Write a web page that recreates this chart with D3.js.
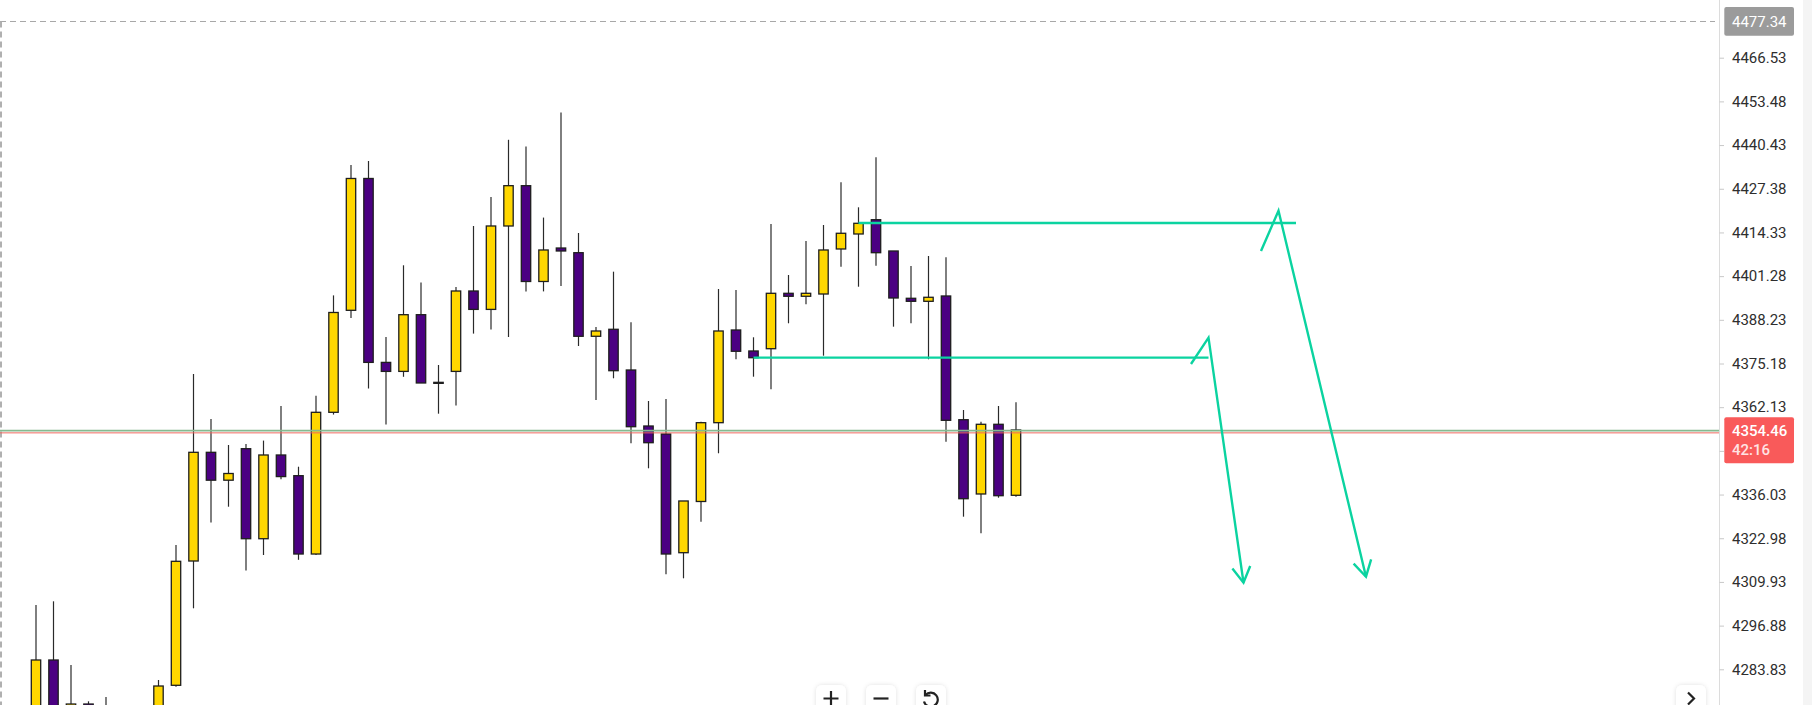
<!DOCTYPE html>
<html>
<head>
<meta charset="utf-8">
<script src="https://cdn.jsdelivr.net/npm/d3@7"></script>
<style>
  html, body { margin: 0; padding: 0; background: #fff; overflow: hidden; }
  svg { display: block; font-family: Roboto, "Noto Sans", sans-serif; }
</style>
</head>
<body>
<script>
// data (null = bar is off screen below the chart)

const opens = [4262.71, 4286.61, 4271.07, 4273.46, 4266.30, null, null, 4268.68, 4279.05, 4316.18,
  4348.65, 4340.32, 4349.73, 4322.84, 4347.85, 4341.67, 4318.27, 4360.60, 4391.07, 4430.45,
  4375.51, 4372.82, 4389.76, 4369.55, 4372.82, 4396.84, 4391.34, 4416.26, 4428.30, 4399.68,
  4409.68, 4408.28, 4383.31, 4385.40, 4373.24, 4356.51, 4354.12, 4318.66, 4333.96, 4357.50,
  4385.19, 4378.92, 4379.60, 4396.15, 4395.26, 4395.94, 4409.39, 4413.87, 4418.14, 4408.79,
  4394.66, 4393.76, 4395.35, 4358.39, 4336.20, 4357.02, 4335.81]

const highs = [4303.04, 4304.14, 4285.11, 4274.27, 4275.55, null, null, 4280.63, 4320.96, 4372.04,
  4358.60, 4350.84, 4351.13, 4352.15, 4362.49, 4344.35, 4365.56, 4395.53, 4434.48, 4435.67,
  4383.10, 4404.52, 4399.41, 4374.73, 4398.03, 4416.26, 4424.92, 4442.01, 4439.98, 4418.77,
  4450.19, 4414.17, 4386.09, 4402.61, 4387.49, 4363.98, 4364.58, 4334.11, 4357.80, 4397.44,
  4397.14, 4383.01, 4416.85, 4401.62, 4411.78, 4416.56, 4429.31, 4421.84, 4436.78, 4408.79,
  4404.31, 4407.30, 4406.91, 4361.29, 4357.80, 4362.49, 4363.59]

const lows = [4261.20, 4259.72, 4268.68, 4269.88, 4264.50, null, null, 4267.19, 4278.63, 4302.05,
  4327.68, 4332.40, 4313.34, 4317.97, 4340.59, 4316.54, 4317.97, 4359.92, 4388.77, 4367.71,
  4356.96, 4371.21, 4369.36, 4360.19, 4362.60, 4384.11, 4385.31, 4383.10, 4396.72, 4396.72,
  4398.33, 4380.41, 4364.28, 4370.76, 4351.34, 4343.87, 4312.21, 4311.01, 4327.92, 4348.36,
  4376.44, 4371.24, 4367.47, 4387.19, 4392.87, 4377.51, 4404.10, 4398.12, 4404.40, 4386.18,
  4387.19, 4376.44, 4351.82, 4329.42, 4324.46, 4335.09, 4335.39]

const closes = [4286.61, 4262.71, 4273.46, 4271.67, 4271.07, null, null, 4278.84, 4316.09, 4348.65,
  4340.32, 4342.32, 4322.84, 4347.85, 4341.40, 4318.27, 4360.60, 4390.42, 4430.45, 4375.51,
  4372.82, 4389.76, 4369.36, 4369.45, 4396.84, 4391.34, 4416.26, 4428.30, 4399.68, 4409.09,
  4408.79, 4383.31, 4384.89, 4373.03, 4356.30, 4351.52, 4318.27, 4334.11, 4357.50, 4384.89,
  4378.83, 4376.91, 4396.15, 4395.26, 4396.15, 4409.09, 4414.08, 4417.06, 4408.28, 4394.75,
  4393.76, 4394.96, 4358.21, 4334.79, 4357.02, 4335.69, 4355.32]

const priceTicks = [4466.53, 4453.48, 4440.43, 4427.38, 4414.33, 4401.28, 4388.23, 4375.18,
  4362.13, 4349.08, 4336.03, 4322.98, 4309.93, 4296.88, 4283.83]
const hiddenTick = 4349.08 // sits under the last price label

const topPrice = 4477.34
const lastPrice = 4354.46
const lastPriceTimer = "42:16"
const userLine = 4355.1

// drawings: [bar index, price]
const levelLines = [
  { from: 47, to: 72, price: 4417.15 },
  { from: 41, to: 67, price: 4376.91 }
]
const arrowUpper = [[70, 4408.79], [71, 4420.83], [76, 4311.49]]
const arrowLower = [[66, 4375.03], [67, 4382.89], [69, 4309.70]]

const bars = opens.map((o, i) => ({ i, o, h: highs[i], l: lows[i], c: closes[i] }))
  .filter(d => d.o !== null)

// chart

const width = 1812, height = 705
const axisX = 1719
const fmt = d3.format(".2f")

const svg = d3.select("body").append("svg")
  .attr("width", width)
  .attr("height", height)

const defs = svg.append("defs")
const shadow = defs.append("filter").attr("id", "btnShadow")
  .attr("x", "-30%").attr("y", "-30%").attr("width", "160%").attr("height", "160%")
shadow.append("feDropShadow")
  .attr("dx", 0).attr("dy", 0).attr("stdDeviation", 2)
  .attr("flood-color", "#000").attr("flood-opacity", 0.12)
defs.append("clipPath").attr("id", "plot")
  .append("rect").attr("x", 0).attr("y", 0).attr("width", axisX).attr("height", height)

const x = d3.scaleLinear().domain([0, 56]).range([36, 1016])
const y = d3.scaleLinear().domain([4466.53, 4283.83]).range([57.7, 669.3])

// right strip
svg.append("rect")
  .attr("x", 1803).attr("y", 0).attr("width", 9).attr("height", height)
  .attr("fill", "#f4f4f4")

const plot = svg.append("g").attr("clip-path", "url(#plot)")

// dashed frame (top price / left edge)
plot.append("line")
  .attr("x1", 0).attr("x2", axisX - 4)
  .attr("y1", y(topPrice)).attr("y2", y(topPrice))
  .attr("stroke", "#a8a8a8").attr("stroke-width", 1.2).attr("stroke-dasharray", "6,4")
plot.append("line")
  .attr("x1", 1).attr("x2", 1)
  .attr("y1", y(topPrice)).attr("y2", height)
  .attr("stroke", "#b0b0b0").attr("stroke-width", 2).attr("stroke-dasharray", "6,4")

// candles
const candle = plot.selectAll(".candle")
  .data(bars)
  .enter().append("g")
  .attr("class", "candle")

candle.append("line")
  .attr("x1", d => x(d.i)).attr("x2", d => x(d.i))
  .attr("y1", d => y(d.h)).attr("y2", d => y(d.l))
  .attr("stroke", "#2a2a2a").attr("stroke-width", 1.2)

candle.append("rect")
  .attr("x", d => x(d.i) - 4.7)
  .attr("width", 9.4)
  .attr("y", d => y(Math.max(d.o, d.c)))
  .attr("height", d => Math.max(1, Math.abs(y(d.o) - y(d.c))))
  .attr("fill", d => d.c >= d.o ? "#ffd700" : "#4b0082")
  .attr("stroke", "#1e1e1e").attr("stroke-width", 1.3)

// current price lines
plot.append("line")
  .attr("x1", 0).attr("x2", axisX)
  .attr("y1", y(lastPrice)).attr("y2", y(lastPrice))
  .attr("stroke", "#ee6a60").attr("stroke-width", 1)
plot.append("line")
  .attr("x1", 0).attr("x2", axisX)
  .attr("y1", y(userLine)).attr("y2", y(userLine))
  .attr("stroke", "#86b98f").attr("stroke-width", 1.8)

// drawings
const teal = "#0bd3a0"
plot.selectAll(".level")
  .data(levelLines)
  .enter().append("line")
  .attr("class", "level")
  .attr("x1", d => x(d.from)).attr("x2", d => x(d.to))
  .attr("y1", d => y(d.price)).attr("y2", d => y(d.price))
  .attr("stroke", teal).attr("stroke-width", 2.3)

const drawArrow = pts => {
  const p = pts.map(([i, v]) => [x(i), y(v)])
  plot.append("path")
    .attr("d", d3.line()(p))
    .attr("fill", "none").attr("stroke", teal).attr("stroke-width", 2.4)
    .attr("stroke-linejoin", "miter")
  const [a, b] = p.slice(-2)
  const ang = Math.atan2(a[1] - b[1], a[0] - b[0])
  const len = 18, spread = Math.PI / 180 * 30
  const wing = s => [b[0] + len * Math.cos(ang + s), b[1] + len * Math.sin(ang + s)]
  plot.append("path")
    .attr("d", d3.line()([wing(spread), b, wing(-spread)]))
    .attr("fill", "none").attr("stroke", teal).attr("stroke-width", 2.4)
}
drawArrow(arrowUpper)
drawArrow(arrowLower)

// price axis
svg.append("line")
  .attr("x1", axisX + 0.5).attr("x2", axisX + 0.5)
  .attr("y1", 0).attr("y2", height)
  .attr("stroke", "#dcdcdc")

const yAxis = d3.axisRight(y)
  .tickValues(priceTicks)
  .tickFormat(d => d === hiddenTick ? "" : fmt(d))
  .tickSize(4.5)
  .tickPadding(8)

const axisG = svg.append("g")
  .attr("transform", `translate(${axisX + 0.5},0)`)
  .call(yAxis)
axisG.select(".domain").remove()
axisG.selectAll(".tick line").attr("stroke", "#c8c8c8")
axisG.selectAll(".tick text")
  .attr("fill", "#2e2e2e")
  .attr("font-size", 15)
  .attr("font-family", "Roboto, 'Noto Sans', sans-serif")

// top price label
svg.append("rect")
  .attr("x", 1724.3).attr("y", y(topPrice) - 14.4)
  .attr("width", 69.7).attr("height", 28.7).attr("rx", 2)
  .attr("fill", "#9b9b9b")
svg.append("text")
  .attr("x", 1732).attr("y", y(topPrice) + 5.3)
  .attr("fill", "#fff").attr("font-size", 15)
  .text(fmt(topPrice))

// last price label
const ly = y(lastPrice)
svg.append("rect")
  .attr("x", 1724.3).attr("y", ly - 15.5)
  .attr("width", 69.7).attr("height", 46).attr("rx", 2)
  .attr("fill", "#f95a5a")
svg.append("text")
  .attr("x", 1732).attr("y", ly + 3.5)
  .attr("fill", "#fff").attr("font-size", 15).attr("font-weight", 500)
  .text(fmt(lastPrice))
svg.append("text")
  .attr("x", 1732).attr("y", ly + 22)
  .attr("fill", "#ffe3e3").attr("font-size", 15).attr("font-weight", 500)
  .text(lastPriceTimer)

// bottom buttons
const btns = svg.append("g")
const btn = bx => btns.append("rect")
  .attr("x", bx).attr("y", 685).attr("width", 30).attr("height", 34).attr("rx", 6)
  .attr("fill", "#fff").attr("filter", "url(#btnShadow)")
;[816, 866, 916, 1676].forEach(btn)

const icon = btns.append("g")
  .attr("stroke", "#222").attr("stroke-width", 2.2).attr("fill", "none")
  .attr("stroke-linecap", "butt")
icon.append("path").attr("d", "M823.5,698.5 H838.5 M831,691 V706")
icon.append("path").attr("d", "M873.5,698.5 H888.5")
icon.append("path").attr("d", "M925.5,695 A7,7 0 1 1 924,701.5")
icon.append("path").attr("d", "M925,690 L925,695.5 L930.5,695.5")
icon.append("path").attr("d", "M1688,692.5 L1694,698.5 L1688,704.5")
</script>
</body>
</html>
